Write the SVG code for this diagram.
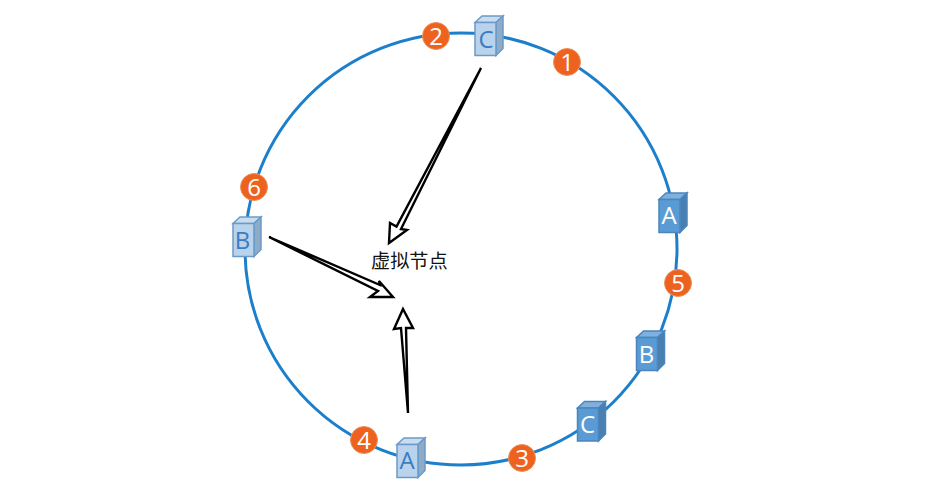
<svg xmlns="http://www.w3.org/2000/svg" width="948" height="486" viewBox="0 0 948 486">
<style>
.ring{fill:none;stroke:#1c7fcc;stroke-width:3}
.arrow{fill:#fff;stroke:#000;stroke-width:2.4;stroke-linejoin:miter}
.badge{fill:#ee6220;stroke:#e9925f;stroke-width:1}
.num{font:500 24px "Open Sans","Liberation Sans",sans-serif;fill:#fff;text-anchor:middle}
.lt{--f:#b9d3ec;--t:#c9dcf0;--s:#8eabc8;--e:#6b9ac8}
.dk{--f:#5b9bd5;--t:#7fb0de;--s:#4a7fb0;--e:#4a86bd}
.f{fill:var(--f);stroke:var(--e);stroke-width:1.5}
.t{fill:var(--t);stroke:var(--e);stroke-width:1.5}
.s{fill:var(--s);stroke:var(--e);stroke-width:1.5}
.lt text{fill:#3a7cc0}
.dk text{fill:#fff}
.cube text{font:24px "Open Sans","Liberation Sans",sans-serif;text-anchor:middle}
.lbl{font:19.200px "Noto Sans CJK SC","Noto Sans",sans-serif;fill:#111}
</style>
<defs>
<g id="box">
<path class="t" d="M0 0L7-6.500H28L21 0Z"/>
<path class="s" d="M21 0L28-6.500V26L21 33Z"/>
<rect class="f" width="21" height="33"/>
</g>
</defs>
<circle id="ring" class="ring" cx="461" cy="249" r="216"/>
<g id="connectors">
<path class="arrow" d="M481 68L401 229L407 230L389 243L390 223L396.500 226.500Z"/>
<path class="arrow" d="M269 237L380 285L379 281L393 297L370 297L378 291Z"/>
<path class="arrow" d="M408 413L406 328L413 328L403 309L394 329L401 328Z"/>
</g>
<g id="label"><text class="lbl" x="371" y="268">虚拟节点</text></g>
<g id="node-c-top" class="cube lt" transform="translate(475 22.500)"><use href="#box"/><text x="11" y="25">C</text></g>
<g id="node-b-left" class="cube lt" transform="translate(233 223.500)"><use href="#box"/><text x="9.500" y="25">B</text></g>
<g id="node-a-bottom" class="cube lt" transform="translate(397 444.500)"><use href="#box"/><text x="10" y="24">A</text></g>
<g id="node-a-right" class="cube dk" transform="translate(659 199.500)"><use href="#box"/><text x="10" y="24">A</text></g>
<g id="node-b-right" class="cube dk" transform="translate(636.500 337.500)"><use href="#box"/><text x="10" y="25">B</text></g>
<g id="node-c-right" class="cube dk" transform="translate(577.500 408)"><use href="#box"/><text x="10" y="25">C</text></g>
<g id="badge-1"><circle class="badge" cx="567" cy="62" r="13.500"/><text class="num" x="567" y="71">1</text></g>
<g id="badge-2"><circle class="badge" cx="436" cy="36" r="13.500"/><text class="num" x="436" y="45">2</text></g>
<g id="badge-3"><circle class="badge" cx="522" cy="458" r="13.500"/><text class="num" x="522" y="467">3</text></g>
<g id="badge-4"><circle class="badge" cx="364" cy="440" r="13.500"/><text class="num" x="364" y="449">4</text></g>
<g id="badge-5"><circle class="badge" cx="678" cy="283" r="13.500"/><text class="num" x="678" y="292">5</text></g>
<g id="badge-6"><circle class="badge" cx="254" cy="187" r="13.500"/><text class="num" x="254" y="196">6</text></g>
</svg>
